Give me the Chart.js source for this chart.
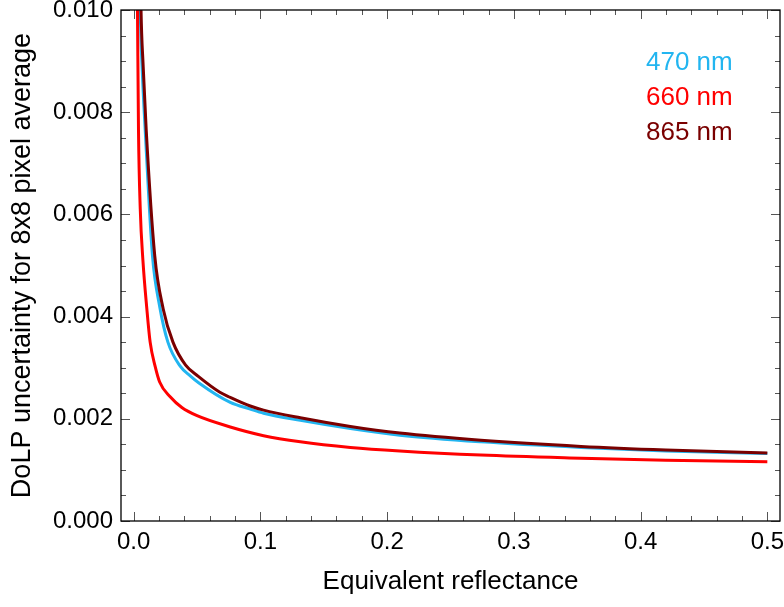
<!DOCTYPE html>
<html>
<head>
<meta charset="utf-8">
<script src="https://cdn.jsdelivr.net/npm/chart.js@4.4.1/dist/chart.umd.min.js"></script>
<style>
  html, body { margin: 0; padding: 0; background: #ffffff; }
  #c { display: block; }
</style>
</head>
<body>
<canvas id="c" width="784" height="607"></canvas>
<script>
// ---- data (x = equivalent reflectance, y = DoLP uncertainty) ----
const seriesLabels = ["470 nm", "660 nm", "865 nm"];

const x470 = [0.0044, 0.0052, 0.0068, 0.0091, 0.0148, 0.0205, 0.027, 0.037, 0.0446, 0.0515, 0.0762, 0.092, 0.1025, 0.1315, 0.171, 0.21, 0.274, 0.353, 0.42, 0.5];
const y470 = [0.0118, 0.0100, 0.0088, 0.00765, 0.0052, 0.0042, 0.0035, 0.00302, 0.00284, 0.00270, 0.00232, 0.00219, 0.00211, 0.00197, 0.00181, 0.00168, 0.00155, 0.00144, 0.00137, 0.00132];

const x660 = [0.0022, 0.003, 0.0038, 0.0052, 0.0073, 0.0104, 0.013, 0.017, 0.0205, 0.0288, 0.038, 0.05, 0.0762, 0.1025, 0.1315, 0.171, 0.21, 0.274, 0.353, 0.42, 0.5];
const y660 = [0.0122, 0.0100, 0.00765, 0.0061, 0.0051, 0.00415, 0.0035, 0.00302, 0.00272, 0.00243, 0.00222, 0.00206, 0.00184, 0.00167, 0.00155, 0.00144, 0.00137, 0.00129, 0.00123, 0.00119, 0.00116];

const x865 = [0.0048, 0.0058, 0.0075, 0.0099, 0.0166, 0.0233, 0.031, 0.041, 0.051, 0.068, 0.0762, 0.092, 0.1025, 0.1315, 0.171, 0.21, 0.274, 0.353, 0.42, 0.5];
const y865 = [0.0118, 0.0100, 0.0089, 0.00765, 0.0052, 0.00415, 0.0035, 0.00305, 0.00283, 0.00252, 0.00242, 0.00225, 0.00217, 0.00202, 0.00185, 0.00172, 0.00158, 0.00146, 0.00139, 0.00133];

const xTickValues = [0.0, 0.1, 0.2, 0.3, 0.4, 0.5];
const xTickLabels = ["0.0", "0.1", "0.2", "0.3", "0.4", "0.5"];
const yTickValues = [0.000, 0.002, 0.004, 0.006, 0.008, 0.010];
const yTickLabels = ["0.000", "0.002", "0.004", "0.006", "0.008", "0.010"];
const xMinorStep = 0.02;
const yMinorStep = 0.0005;

const xTitle = "Equivalent reflectance";
const yTitle = "DoLP uncertainty for 8x8 pixel average";

const colors = ["#22b5f0", "#ff0000", "#7a0000"];

// ---- build ----
function pts(xs, ys) { return xs.map((x, i) => ({ x: x, y: ys[i] })); }

const FONT = "'Liberation Sans', Arial, Helvetica, sans-serif";

const framePlugin = {
  id: 'frameTicks',
  afterDatasetsDraw(chart) {
    const ctx = chart.ctx;
    const a = chart.chartArea;
    const xs = chart.scales.x, ys = chart.scales.y;
    ctx.save();
    ctx.strokeStyle = '#555555';
    ctx.lineWidth = 1;
    const major = 9, minor = 5;
    const eps = 1e-9;
    const xStart = Math.ceil(xs.min / xMinorStep - eps);
    const xEnd = Math.floor(xs.max / xMinorStep + eps);
    for (let k = xStart; k <= xEnd; k++) {
      const v = k * xMinorStep;
      const isMajor = xTickValues.some(t => Math.abs(t - v) < 1e-6);
      const len = isMajor ? major : minor;
      const px = Math.round(xs.getPixelForValue(v)) + 0.5;
      ctx.beginPath();
      ctx.moveTo(px, a.bottom); ctx.lineTo(px, a.bottom - len);
      ctx.moveTo(px, a.top); ctx.lineTo(px, a.top + len);
      ctx.stroke();
    }
    const yStart = Math.ceil(ys.min / yMinorStep - eps);
    const yEnd = Math.floor(ys.max / yMinorStep + eps);
    for (let k = yStart; k <= yEnd; k++) {
      const v = k * yMinorStep;
      const isMajor = yTickValues.some(t => Math.abs(t - v) < 1e-9);
      const len = isMajor ? major : minor;
      const py = Math.round(ys.getPixelForValue(v)) + 0.5;
      ctx.beginPath();
      ctx.moveTo(a.left, py); ctx.lineTo(a.left + len, py);
      ctx.moveTo(a.right, py); ctx.lineTo(a.right - len, py);
      ctx.stroke();
    }
    ctx.strokeStyle = '#000000';
    ctx.lineWidth = 1.3;
    ctx.strokeRect(a.left, a.top, a.right - a.left, a.bottom - a.top);
    ctx.font = "26px " + FONT;
    ctx.textAlign = 'left';
    ctx.textBaseline = 'middle';
    const ly = [63, 98, 133];
    chart.data.datasets.forEach((ds, i) => {
      ctx.fillStyle = ds.borderColor;
      ctx.fillText(ds.label, 646, ly[i]);
    });
    ctx.restore();
  }
};

new Chart(document.getElementById('c'), {
  type: 'line',
  data: {
    datasets: [
      { label: seriesLabels[0], data: pts(x470, y470), borderColor: colors[0], order: 2 },
      { label: seriesLabels[1], data: pts(x660, y660), borderColor: colors[1], order: 1 },
      { label: seriesLabels[2], data: pts(x865, y865), borderColor: colors[2], order: 0 }
    ].map(d => Object.assign(d, {
      borderWidth: 3,
      pointRadius: 0,
      fill: false,
      cubicInterpolationMode: 'monotone',
      borderCapStyle: 'butt'
    }))
  },
  options: {
    responsive: false,
    animation: false,
    devicePixelRatio: 1,
    layout: { padding: { left: 0, top: 10, right: 4, bottom: 0 } },
    plugins: { legend: { display: false }, tooltip: { enabled: false } },
    scales: {
      x: {
        type: 'linear',
        min: -0.01, max: 0.51,
        grid: { display: false, drawTicks: false },
        border: { display: false },
        afterBuildTicks: s => { s.ticks = xTickValues.map(v => ({ value: v })); },
        afterFit: s => { s.height = 86; s.paddingLeft = 0; s.paddingRight = 0; },
        ticks: {
          autoSkip: false, maxRotation: 0, padding: 7,
          color: '#000000',
          font: { family: FONT, size: 24 },
          callback: (v, i) => xTickLabels[i]
        },
        title: {
          display: true, text: xTitle, color: '#000000',
          font: { family: FONT, size: 26 },
          padding: { top: 0, bottom: 10 }
        }
      },
      y: {
        type: 'linear',
        min: 0, max: 0.010,
        grid: { display: false, drawTicks: false },
        border: { display: false },
        afterBuildTicks: s => { s.ticks = yTickValues.map(v => ({ value: v })); },
        afterFit: s => { s.width = 121; s.paddingTop = 0; s.paddingBottom = 0; },
        ticks: {
          autoSkip: false, padding: 8,
          color: '#000000',
          font: { family: FONT, size: 24 },
          callback: (v, i) => yTickLabels[i]
        },
        title: {
          display: true, text: yTitle, color: '#000000',
          font: { family: FONT, size: 27 },
          padding: { top: 6, bottom: 0 }
        }
      }
    }
  },
  plugins: [framePlugin]
});
</script>
</body>
</html>
